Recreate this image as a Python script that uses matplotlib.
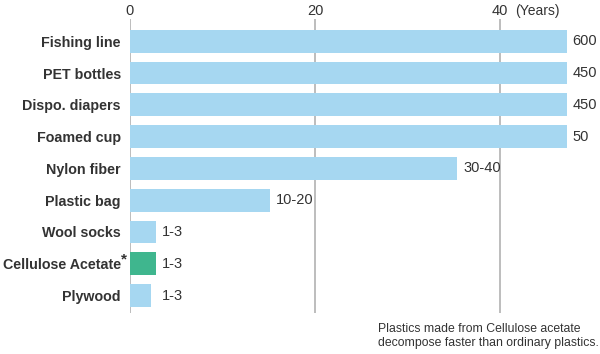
import matplotlib.pyplot as plt

plt.rcParams['font.family'] = ['Liberation Sans', 'DejaVu Sans']

# Daten: Zerfallszeit (Balkenlänge im Bild abgeschnitten bei ~47)
materials = ["Fishing line", "PET bottles", "Dispo. diapers", "Foamed cup",
             "Nylon fiber", "Plastic bag", "Wool socks", "Cellulose Acetate", "Plywood"]
bar_len = [47.2, 47.2, 47.2, 47.2, 35.4, 15.1, 2.8, 2.8, 2.3]
value_labels = ["600", "450", "450", "50", "30-40", "10-20", "1-3", "1-3", "1-3"]
ticks = [0, 20, 40]

blue = "#a6d7f1"
green = "#3fb68e"
colors = [green if m == "Cellulose Acetate" else blue for m in materials]

fig = plt.figure(figsize=(6, 3.54), dpi=100)
# Achse: x=0 bei Pixel 130, 9.25 px pro Jahr, Gitter von y=19 bis y=313
ax = fig.add_axes([130 / 600, 1 - 313 / 354, 470 / 600, 294 / 354])

y = list(range(len(materials)))
ax.barh(y, bar_len, height=0.72, color=colors, zorder=2)

for yi, v, lab in zip(y, bar_len, value_labels):
    x_lab = max(v, 2.8) + 0.65
    ax.text(x_lab, yi, lab, va="center", ha="left", fontsize=10.5, color="#333333")

ax.set_xlim(0, 470 / 9.25)
ax.set_ylim(len(materials) - 1 + 0.55, -0.7)

ax.xaxis.tick_top()
ax.set_xticks(ticks)
ax.set_xticklabels([str(t) for t in ticks], fontsize=10.5, color="#333333")
ax.tick_params(axis="x", length=0, pad=1)
ax.annotate("(Years)", xy=(40, 1), xycoords=("data", "axes fraction"),
            xytext=(11, 1), textcoords="offset points",
            fontsize=10, color="#333333", va="bottom", ha="left")

ax.set_yticks(y)
ax.set_yticklabels(materials, fontsize=10.3, fontweight="bold", color="#333333")
ax.tick_params(axis="y", length=0, pad=6.5)

# Sternchen hinter Cellulose Acetate
ca = materials.index("Cellulose Acetate")
ax.annotate("*", xy=(0, ca), xycoords=("axes fraction", "data"),
            xytext=(-6.3, 3), textcoords="offset points",
            fontsize=11, fontweight="bold", color="#333333", ha="left", va="center")

ax.grid(True, axis="x", color="#bdbdbd", linewidth=1.4, zorder=0)
for s in ax.spines.values():
    s.set_visible(False)

fig.text(378 / 600, 1 - 336 / 354, "Plastics made from Cellulose acetate\ndecompose faster than ordinary plastics.",
         fontsize=8.8, color="#333333", va="center", ha="left", linespacing=1.25)

fig.savefig("out.png", dpi=100)
